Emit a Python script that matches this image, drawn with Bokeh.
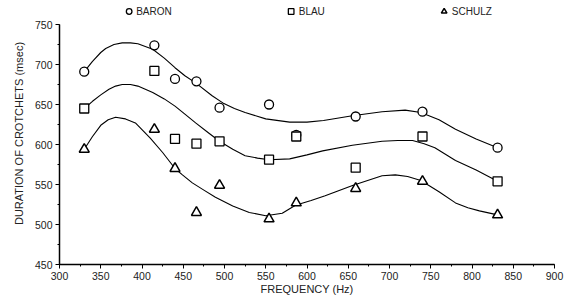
from bokeh.plotting import figure
from bokeh.models import Legend, LegendItem, FixedTicker, Range1d
from bokeh.embed import file_html
from bokeh.resources import INLINE

# Note frequencies (Hz)
freq = [330, 415, 440, 466, 494, 554, 587, 659, 740, 831]
baron = [691, 724, 682, 679, 646, 650, 612, 635, 641, 596]
blau = [645, 692, 607, 601, 604, 581, 610, 571, 610, 554]
schulz = [594, 619, 570, 515, 549, 507, 527, 545, 554, 512]

# Fitted curves
baron_cf = [330, 340, 350, 356, 366, 376, 386, 395, 413, 427, 440, 452, 465, 485, 498, 512, 525, 550, 579, 600, 620, 655, 691, 719, 738, 760, 780, 805, 831]
baron_cv = [691, 704, 715, 720, 725, 727, 727, 726, 719, 708, 696, 686, 677, 661, 652, 645, 640, 632, 628, 628, 630, 636, 641, 643, 640, 631, 619, 607, 596]
blau_cf = [330, 340, 350, 360, 368, 376, 386, 395, 413, 427, 440, 452, 465, 480, 494, 510, 525, 540, 554, 579, 600, 619, 655, 691, 710, 728, 742, 755, 780, 805, 831]
blau_cv = [645, 654, 662, 669, 673, 675, 675, 673, 665, 657, 648, 638, 627, 615, 604, 594, 586, 583, 581, 582, 587, 592, 599, 604, 605, 605, 601, 596, 580, 568, 554]
schulz_cf = [330, 340, 350, 359, 368, 380, 392, 410, 425, 440, 449, 461, 475, 489, 510, 530, 550, 570, 586, 605, 622, 656, 691, 707, 722, 738, 760, 780, 795, 809, 831]
schulz_cv = [594, 610, 624, 631, 634, 632, 627, 608, 590, 570, 562, 552, 543, 534, 523, 515, 511, 514, 524, 530, 536, 549, 561, 562, 560, 555, 541, 527, 521, 517, 512]

x_ticks = list(range(300, 901, 50))
y_ticks = list(range(450, 751, 50))

p = figure(width=566, height=299, output_backend="svg", toolbar_location=None,
           x_range=Range1d(300, 900), y_range=Range1d(450, 777.5),
           min_border_left=59, min_border_right=12, min_border_top=2, min_border_bottom=35)
p.outline_line_color = None
p.grid.visible = False
p.background_fill_color = "white"

txt = "#222222"
font = "Liberation Sans"
for ax in (p.xaxis[0], p.yaxis[0]):
    ax.axis_line_color = "black"
    ax.axis_line_width = 1.5
    ax.major_tick_line_color = "black"
    ax.minor_tick_line_color = "black"
    ax.major_tick_out = 4
    ax.major_tick_in = 0
    ax.minor_tick_out = 2
    ax.minor_tick_in = 0
    ax.major_label_text_font = font
    ax.major_label_text_font_size = "10.5px"
    ax.major_label_text_color = txt
    ax.axis_label_text_font = font
    ax.axis_label_text_font_size = "11px"
    ax.axis_label_text_font_style = "normal"
    ax.axis_label_text_color = txt

p.yaxis.bounds = (450, 750)
p.xaxis.ticker = FixedTicker(ticks=x_ticks, minor_ticks=list(range(300, 901, 25)))
p.yaxis.ticker = FixedTicker(ticks=y_ticks, minor_ticks=list(range(450, 751, 25)))
p.xaxis.axis_label = "FREQUENCY (Hz)"
p.yaxis.axis_label = "DURATION OF CROTCHETS (msec)"
p.xaxis.major_label_standoff = 3
p.xaxis.axis_label_standoff = 0
p.yaxis.major_label_standoff = 3
p.yaxis.axis_label_standoff = 7

for cf, cv in ((baron_cf, baron_cv), (blau_cf, blau_cv), (schulz_cf, schulz_cv)):
    p.line(cf, cv, line_color="black", line_width=1.1, line_join="round")

r1 = p.scatter(freq, baron, marker="circle", size=9, fill_color="white",
               line_color="black", line_width=1.3)
r2 = p.scatter(freq, blau, marker="square", size=9, fill_color="white",
               line_color="black", line_width=1.3)
r3 = p.scatter(freq, schulz, marker="triangle", size=10, fill_color="white",
               line_color="black", line_width=1.5)

legend = Legend(items=[LegendItem(label="BARON", renderers=[r1]),
                       LegendItem(label="BLAU", renderers=[r2]),
                       LegendItem(label="SCHULZ", renderers=[r3])],
                orientation="horizontal", location="top_center", spacing=112,
                label_text_font=font, label_text_font_size="10px", label_text_color=txt,
                glyph_width=14, glyph_height=14, label_standoff=1, label_height=12,
                border_line_color=None, background_fill_alpha=0, padding=0, margin=2)
p.add_layout(legend, "center")

open("out.html", "w").write(file_html(p, INLINE))
